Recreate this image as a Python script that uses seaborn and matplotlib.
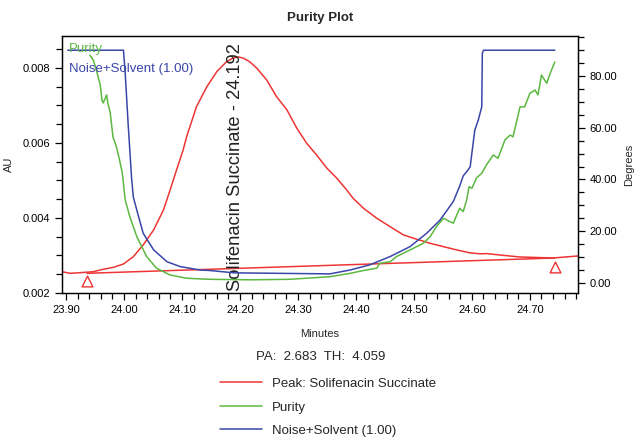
import pandas as pd
import seaborn as sns
import matplotlib.pyplot as plt
from matplotlib.ticker import MultipleLocator, FormatStrFormatter

# Pico (AU)
peak_min = [23.893, 23.907, 23.924, 23.947, 23.964, 23.982, 23.999, 24.016, 24.033,
            24.051, 24.068, 24.074, 24.085, 24.091, 24.102, 24.108, 24.125, 24.143,
            24.160, 24.177, 24.188, 24.197, 24.206, 24.217, 24.229, 24.246, 24.263,
            24.281, 24.298, 24.315, 24.332, 24.350, 24.367, 24.384, 24.395, 24.413,
            24.436, 24.459, 24.482, 24.505, 24.528, 24.551, 24.574, 24.597, 24.614,
            24.626, 24.648, 24.683, 24.740, 24.783]
peak_au = [0.002568, 0.002525, 0.002541, 0.002568, 0.002632, 0.002685, 0.002773, 0.002968, 0.003280,
           0.003680, 0.004213, 0.004490, 0.005010, 0.005300, 0.005813, 0.006168, 0.006968, 0.007501,
           0.007901, 0.008168, 0.008259, 0.008293, 0.008259, 0.008160, 0.007992, 0.007680, 0.007235,
           0.006880, 0.006392, 0.005992, 0.005680, 0.005325, 0.005059, 0.004747, 0.004525, 0.004259,
           0.003992, 0.003768, 0.003547, 0.003432, 0.003325, 0.003235, 0.003147, 0.003070, 0.003045,
           0.003050, 0.003013, 0.002960, 0.002933, 0.002987]

# Linha de base e marcadores de início/fim
base_min = [23.936, 24.743]
base_au = [0.002525, 0.002933]
mark_au = [0.002328, 0.002693]

# Purity (graus)
purity_min = [23.941, 23.947, 23.953, 23.959, 23.962, 23.964, 23.970, 23.972, 23.976,
              23.981, 23.987, 23.993, 23.997, 24.002, 24.010, 24.022, 24.039, 24.056,
              24.079, 24.108, 24.148, 24.217, 24.286, 24.355, 24.390, 24.413, 24.436,
              24.441, 24.459, 24.470, 24.482, 24.499, 24.516, 24.528, 24.539, 24.551,
              24.562, 24.568, 24.574, 24.579, 24.585, 24.591, 24.595, 24.600, 24.608,
              24.617, 24.625, 24.637, 24.645, 24.657, 24.666, 24.671, 24.683, 24.691,
              24.700, 24.709, 24.714, 24.720, 24.729, 24.735, 24.743]
purity_deg = [88.1, 86.2, 81.7, 76.5, 70.7, 69.6, 72.7, 69.6, 66.1,
              56.4, 52.6, 46.8, 42.5, 32.1, 25.6, 17.9, 10.2, 5.7,
              3.1, 1.8, 1.4, 1.2, 1.4, 2.4, 3.7, 4.8, 5.7,
              7.6, 8.2, 10.2, 11.5, 13.4, 15.3, 17.9, 21.8, 25.0,
              23.7, 23.1, 26.3, 28.9, 27.6, 32.1, 37.2, 36.6, 40.6,
              42.4, 45.6, 49.5, 48.2, 55.3, 57.2, 56.5, 68.1, 68.1,
              73.3, 74.6, 72.7, 80.4, 77.2, 81.0, 85.5]

# Noise+Solvent (graus)
noise_min = [23.903, 23.999, 24.002, 24.007, 24.013, 24.016, 24.022, 24.033, 24.051,
             24.074, 24.097, 24.131, 24.148, 24.190, 24.269, 24.355, 24.390, 24.424,
             24.459, 24.493, 24.522, 24.545, 24.568, 24.579, 24.585, 24.591, 24.597,
             24.605, 24.611, 24.617, 24.618, 24.620, 24.743]
noise_deg = [90.0, 90.0, 81.2, 61.8, 40.6, 33.2, 28.2, 19.2, 12.8,
             8.2, 6.3, 5.0, 4.8, 3.9, 3.7, 3.5, 5.0, 7.0,
             10.2, 14.0, 19.2, 24.3, 31.5, 37.5, 41.4, 43.0, 44.9,
             59.1, 63.0, 68.1, 88.8, 90.0, 90.0]

peak_name = "Solifenacin Succinate"
peak_rt = 24.192
pa, th = 2.683, 4.059

cor_pico = "#ee3535"
cor_purity = "#5cb840"
cor_noise = "#3a46a8"

sns.set_theme(style="ticks", rc={"axes.edgecolor": "black", "axes.linewidth": 0.9,
                                 "xtick.color": "black", "ytick.color": "black"})
plt.rcParams['font.family'] = ['Liberation Sans', 'DejaVu Sans']

fig = plt.figure(figsize=(6.37, 4.42), dpi=100)
ax = fig.add_axes([62 / 637, 1 - 293 / 442, 516 / 637, 257 / 442])
ax2 = ax.twinx()

df_peak = pd.DataFrame({"min": peak_min, "au": peak_au})
df_base = pd.DataFrame({"min": base_min, "au": base_au})
df_pur = pd.DataFrame({"min": purity_min, "deg": purity_deg})
df_noise = pd.DataFrame({"min": noise_min, "deg": noise_deg})

sns.lineplot(data=df_peak, x="min", y="au", ax=ax, color=cor_pico, lw=1.1,
             sort=False, estimator=None)
sns.lineplot(data=df_base, x="min", y="au", ax=ax, color=cor_pico, lw=1.1,
             sort=False, estimator=None)
ax.scatter(base_min, mark_au, marker="^", s=60, facecolors="white",
           edgecolors=cor_pico, linewidths=1.0, zorder=5)

sns.lineplot(data=df_pur, x="min", y="deg", ax=ax2, color=cor_purity, lw=1.1,
             sort=False, estimator=None)
sns.lineplot(data=df_noise, x="min", y="deg", ax=ax2, color=cor_noise, lw=1.1,
             sort=False, estimator=None)

ax.text(peak_rt, 0.00206, f"{peak_name} - {peak_rt:.3f}", rotation=90,
        ha="center", va="bottom", fontsize=13.2, color="#222222", zorder=6)

# Eixos
ax.set_xlim(23.893, 24.783)
ax.set_ylim(0.002, 0.00885)
ax2.set_ylim(-3.9, 95.5)
ax.xaxis.set_major_locator(MultipleLocator(0.1))
ax.xaxis.set_minor_locator(MultipleLocator(0.02))
ax.xaxis.set_major_formatter(FormatStrFormatter("%.2f"))
ax.yaxis.set_major_locator(MultipleLocator(0.002))
ax.yaxis.set_minor_locator(MultipleLocator(0.0005))
ax.yaxis.set_major_formatter(FormatStrFormatter("%.3f"))
ax2.yaxis.set_major_locator(MultipleLocator(20))
ax2.yaxis.set_minor_locator(MultipleLocator(5))
ax2.yaxis.set_major_formatter(FormatStrFormatter("%.2f"))
for a in (ax, ax2):
    a.tick_params(which="major", length=5, width=0.9, labelsize=8, direction="out")
    a.tick_params(which="minor", length=4, width=0.9, direction="out")

ax.set_xlabel("Minutes", fontsize=8, labelpad=10)
ax.set_ylabel("AU", fontsize=8, labelpad=6)
ax2.set_ylabel("Degrees", fontsize=8, labelpad=5)
ax.set_title("Purity Plot", fontsize=9.5, fontweight="bold", pad=11)

# Legenda interna (texto colorido)
l_pico = ax.lines[0]
l_pur, l_noise = ax2.lines[0], ax2.lines[1]
ax2.legend(handles=[l_pur, l_noise], labels=["Purity", "Noise+Solvent (1.00)"],
           loc="upper left", handlelength=0, handletextpad=0, labelcolor="linecolor",
           frameon=False, fontsize=9.5, borderpad=0.25, borderaxespad=0.25,
           labelspacing=0.62)

fig.text(0.503, 1 - 357 / 442, f"PA:  {pa:.3f}  TH:  {th:.3f}", ha="center",
         va="center", fontsize=9.5)
fig.legend(handles=[l_pico, l_pur, l_noise],
           labels=[f"Peak: {peak_name}", "Purity", "Noise+Solvent (1.00)"],
           loc="upper left", bbox_to_anchor=(208 / 637, 1 - 366 / 442),
           frameon=False, fontsize=9.5, handlelength=3.2, handletextpad=0.75,
           labelspacing=0.85)

fig.savefig("out.png", dpi=100, facecolor="white")
